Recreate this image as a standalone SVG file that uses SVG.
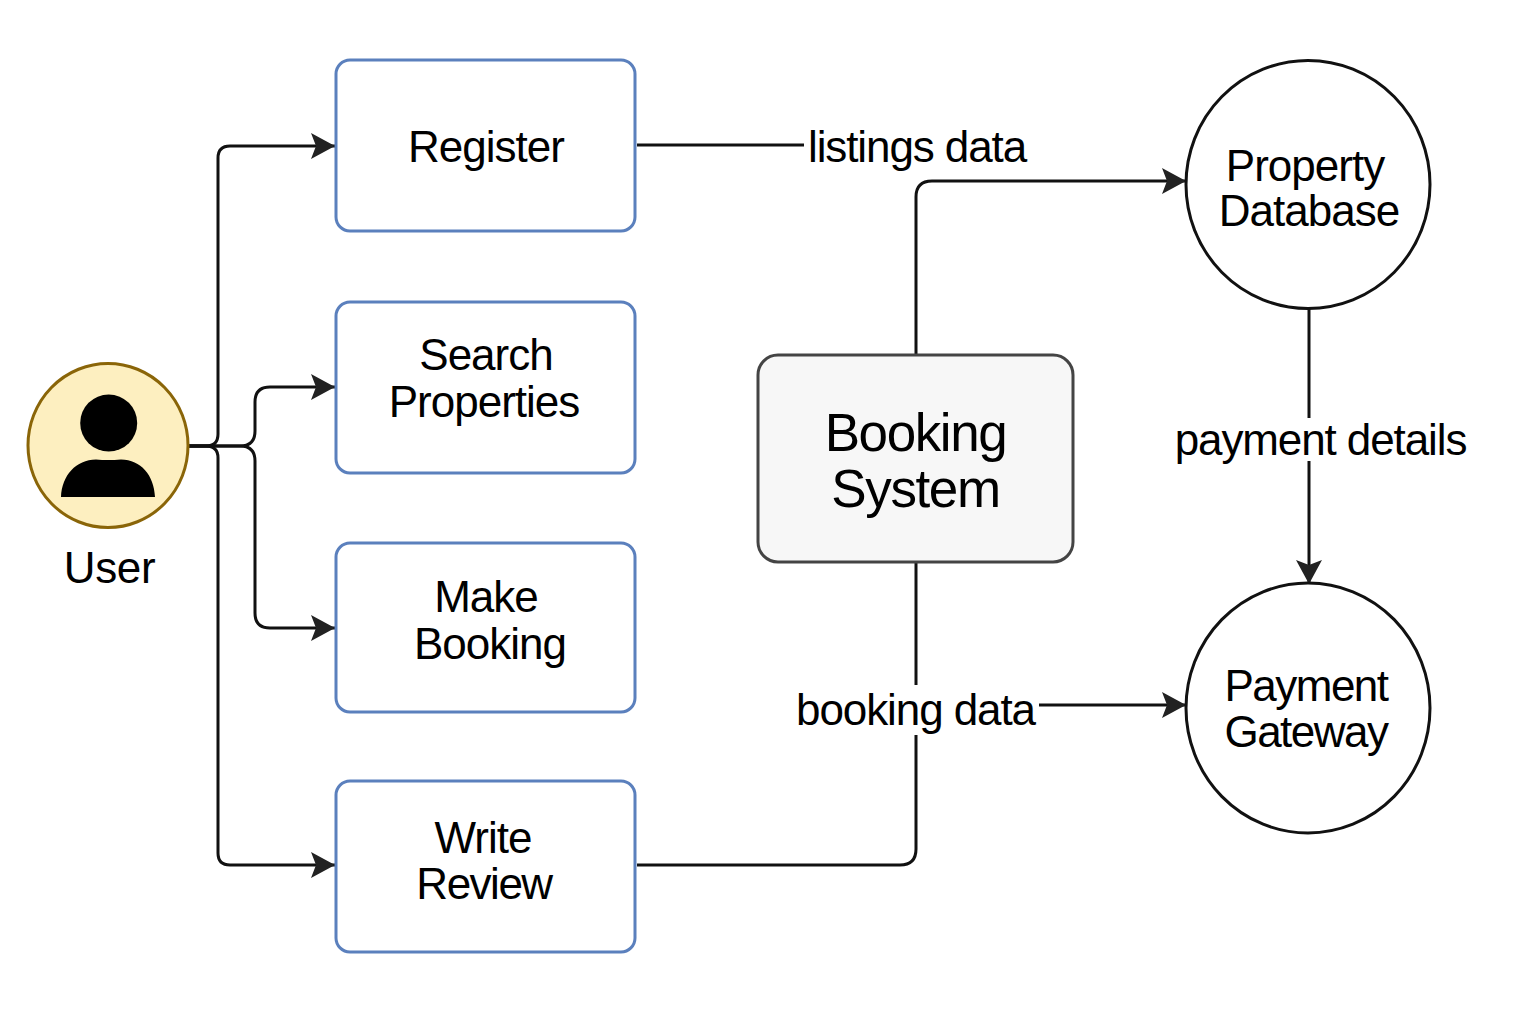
<svg xmlns="http://www.w3.org/2000/svg" width="1536" height="1024" viewBox="0 0 1536 1024">
<defs>
<marker id="a" markerUnits="userSpaceOnUse" markerWidth="26" markerHeight="28" refX="24" refY="14" orient="auto"><path d="M0 1L24 14L0 27L5 14Z" fill="#222"/></marker>
</defs>
<style>
text{font-family:"Liberation Sans",Arial,sans-serif;fill:#000;text-anchor:middle;letter-spacing:-1px}
.t{font-size:44px}
.b{font-size:53px;letter-spacing:-1.4px}
.n{letter-spacing:-1.5px}
.u{letter-spacing:-.4px}
.p{fill:#fff;stroke:#5b80bd;stroke-width:3}
.c{fill:#fff;stroke:#111;stroke-width:3}
.l{fill:none;stroke:#111;stroke-width:3}
</style>
<rect width="1536" height="1024" fill="#fff"/>
<g id="connectors">
<path class="l" marker-end="url(#a)" d="M189 446H206Q218 446 218 434V158Q218 146 230 146H335"/>
<path class="l" marker-end="url(#a)" d="M189 446H240Q255 446 255 431V402Q255 387 270 387H335"/>
<path class="l" marker-end="url(#a)" d="M189 446H240Q255 446 255 461V613Q255 628 270 628H335"/>
<path class="l" marker-end="url(#a)" d="M189 446H206Q218 446 218 458V853Q218 865 230 865H335"/>
<path class="l" d="M637 145H804"/>
<path class="l" marker-end="url(#a)" d="M916 355V197Q916 181 932 181H1186"/>
<path class="l" d="M637 865H900Q916 865 916 849V735"/>
<path class="l" d="M916 685V562"/>
<path class="l" marker-end="url(#a)" d="M1039 705H1186"/>
<path class="l" d="M1309 308V418"/>
<path class="l" marker-end="url(#a)" d="M1309 461V584"/>
</g>
<g id="user">
<ellipse cx="108" cy="445.500" rx="80" ry="82" fill="#fdefc0" stroke="#8a6508" stroke-width="3"/>
<circle cx="108.700" cy="423" r="28.500" fill="#000"/>
<path d="M61 497C62 475 76 460 96 459.500Q108 460.500 121 459.500C141 460 154 475 155 497Z" fill="#000"/>
<text class="t u" x="109.500" y="582.500">User</text>
</g>
<g id="register"><rect class="p" x="336" y="60" width="299" height="171" rx="14"/><text class="t" x="486" y="161.500">Register</text></g>
<g id="search"><rect class="p" x="336" y="302" width="299" height="171" rx="14"/><text class="t" x="486" y="369.500">Search</text><text class="t" x="484" y="416.500">Properties</text></g>
<g id="booking"><rect class="p" x="336" y="543" width="299" height="169" rx="14"/><text class="t" x="486" y="611.500">Make</text><text class="t" x="490" y="658.500">Booking</text></g>
<g id="review"><rect class="p" x="336" y="781" width="299" height="171" rx="14"/><text class="t" x="483" y="852.500">Write</text><text class="t n" x="484" y="898.500">Review</text></g>
<g id="system"><rect x="758" y="355" width="315" height="207" rx="20" fill="#f7f7f7" stroke="#444" stroke-width="3"/><text class="b" x="915.500" y="450.500">Booking</text><text class="b" x="915.500" y="506.500">System</text></g>
<g id="propertydb"><ellipse class="c" cx="1308" cy="184.500" rx="122" ry="124"/><text class="t" x="1305" y="180.500">Property</text><text class="t" x="1309" y="225.500">Database</text></g>
<g id="gateway"><ellipse class="c" cx="1308" cy="708" rx="122" ry="125"/><text class="t n" x="1306" y="700.500">Payment</text><text class="t n" x="1306" y="746.500">Gateway</text></g>
<g id="labels">
<text class="t" x="917" y="161.500" style="letter-spacing:-1.1px">listings data</text>
<text class="t" x="915.500" y="724.500" style="letter-spacing:-1.1px">booking data</text>
<text class="t" x="1320.500" y="454.500" style="letter-spacing:-1.1px">payment details</text>
</g>
</svg>
